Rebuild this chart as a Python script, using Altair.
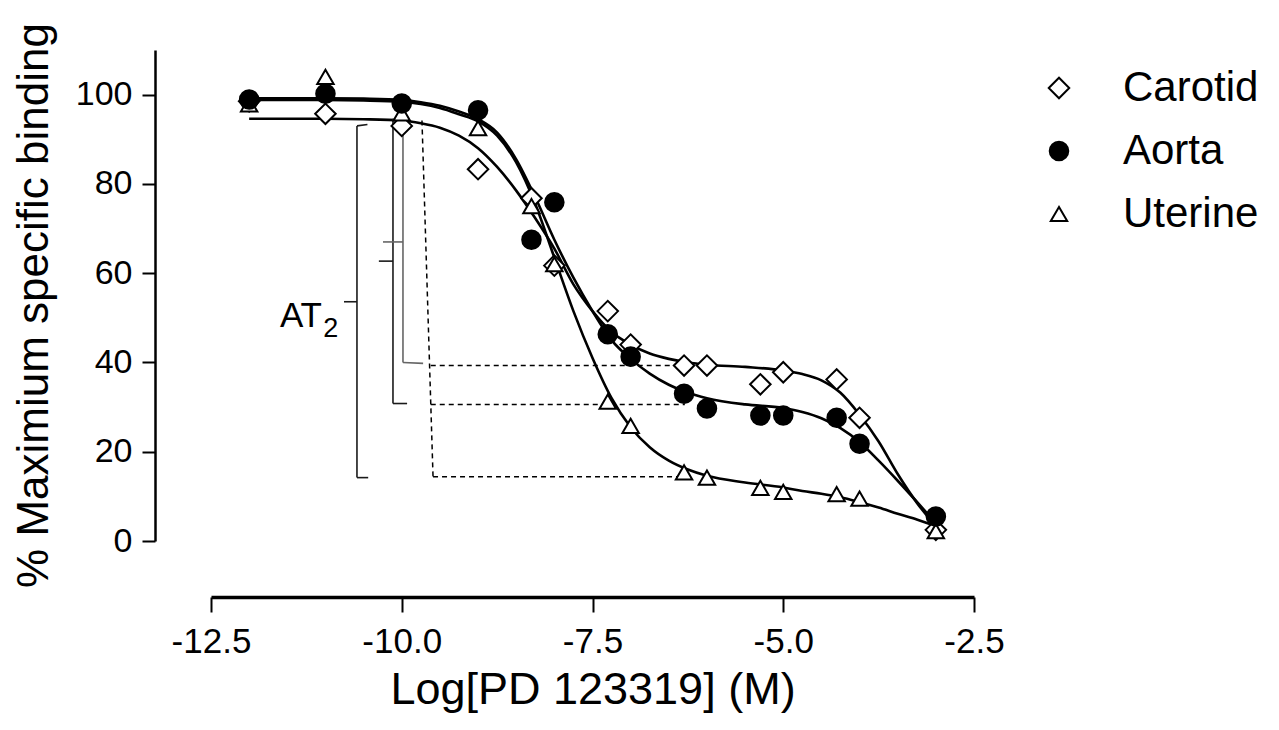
import altair as alt
import pandas as pd

# ---------------- data ----------------
series_names = ["Carotid", "Aorta", "Uterine"]

x_conc = [-12, -11, -10, -9, -8.3, -8, -7.3, -7, -6.3, -6, -5.3, -5, -4.3, -4, -3]
carotid_pts = [98.5, 95.7, 93.0, 83.3, 76.8, 61.7, 51.5, 44.0, 39.3, 39.3, 35.1, 37.8, 36.2, 27.6, 2.5]
aorta_pts = [98.9, 100.2, 98.0, 96.5, 67.5, 75.9, 46.3, 41.3, 33.0, 29.7, 28.1, 28.1, 27.6, 21.8, 5.5]
uterine_pts = [97.8, 104.0, 95.8, 92.5, 75.0, 62.0, 31.2, 25.8, 15.4, 14.2, 11.9, 11.0, 10.5, 9.5, 2.2]

# fitted curves
curve_x = [-12, -11, -10.5, -10, -9.75, -9.5, -9.25, -9, -8.75, -8.5, -8.25, -8,
           -7.75, -7.5, -7.25, -7, -6.75, -6.5, -6.25, -6, -5.5, -5, -4.75, -4.5,
           -4.25, -4, -3.75, -3.5, -3.25, -3]
carotid_fit = [94.6, 94.6, 94.5, 94.2, 93.6, 92.6, 90.8, 88.0, 83.8, 78.5, 72.3, 65.5,
               57.5, 51.5, 46.8, 44.0, 42.0, 40.8, 40.0, 39.5, 39.0, 38.2, 37.4, 36.0,
               33.2, 28.3, 22.3, 15.0, 8.6, 3.3]
aorta_fit = [99.2, 99.2, 99.1, 98.8, 98.3, 97.5, 96.2, 94.5, 91.5, 85.5, 77.0, 67.5,
             59.0, 51.5, 45.0, 40.8, 37.5, 35.0, 33.2, 32.0, 30.6, 29.8, 28.9, 27.5,
             25.3, 22.2, 18.0, 13.5, 8.8, 4.0]
uterine_fit = [98.8, 98.8, 98.7, 98.4, 97.9, 97.0, 95.6, 94.0, 90.8, 84.8, 75.5, 63.5,
               51.5, 41.0, 32.0, 25.5, 21.0, 18.0, 16.0, 14.6, 13.1, 12.0, 11.2, 10.6,
               9.8, 8.7, 7.5, 6.1, 4.8, 3.3]

# annotation: brackets (solid) and guide lines (dashed), in data units
bracket_x1 = [-10.587, -10.587, -10.587, -10.587,
              -10.115, -10.115, -10.115,
              -9.984, -9.984, -9.984]
bracket_x2 = [-10.587, -10.45, -10.44, -10.757,
              -10.115, -9.93, -10.30,
              -9.984, -9.72, -10.246]
bracket_y1 = [93.0, 93.0, 14.2, 53.6,
              94.6, 30.8, 62.7,
              94.2, 40.0, 67.0]
bracket_y2 = [14.2, 93.3, 14.2, 53.6,
              30.8, 30.8, 62.7,
              40.0, 39.8, 67.0]
bracket_col = ["#1a1a1a"] * 7 + ["#666666"] * 3

dash_x1 = [-9.735, -9.62, -9.62, -9.59]
dash_x2 = [-9.59, -6.29, -6.29, -6.29]
dash_y1 = [94.2, 39.3, 30.6, 14.4]
dash_y2 = [14.4, 39.3, 30.6, 14.4]

x_ticks = [-12.5, -10.0, -7.5, -5.0, -2.5]
y_ticks = [0, 20, 40, 60, 80, 100]

FONT = "Liberation Sans, Arial, Helvetica, sans-serif"

# ---------------- tables ----------------
pts = []
for name, vals in [("Carotid", carotid_pts), ("Uterine", uterine_pts), ("Aorta", aorta_pts)]:
    for xv, yv in zip(x_conc, vals):
        pts.append({"x": xv, "y": yv, "series": name})
pts_df = pd.DataFrame(pts)

fit = []
for name, vals in [("Carotid", carotid_fit), ("Aorta", aorta_fit), ("Uterine", uterine_fit)]:
    for xv, yv in zip(curve_x, vals):
        fit.append({"x": xv, "y": yv, "series": name})
fit_df = pd.DataFrame(fit)

br_df = pd.DataFrame({"x": bracket_x1, "x2": bracket_x2, "y": bracket_y1,
                      "y2": bracket_y2, "col": bracket_col})
dash_df = pd.DataFrame({"x": dash_x1, "x2": dash_x2, "y": dash_y1, "y2": dash_y2})

xscale = alt.Scale(domain=[-12.5, -2.5], nice=False, zero=False)
yscale = alt.Scale(domain=[0, 110], nice=False, zero=False)

xaxis = alt.Axis(
    values=x_ticks,
    labelExpr="replace(format(datum.value, '.1f'), '\u2212', '-')",
    offset=56, grid=False, labelFlush=False,
    domainColor="black", domainWidth=3.5,
    tickColor="black", tickWidth=2, tickSize=15,
    labelFont=FONT, labelFontSize=35, labelColor="black",
    labelPadding=40, labelBaseline="alphabetic",
    title="Log[PD 123319] (M)", titleFont=FONT, titleFontSize=45,
    titleFontWeight="normal", titleColor="black",
    titleBaseline="alphabetic", titleY=106,
)
yaxis = alt.Axis(
    values=y_ticks, format="d",
    offset=56, grid=False, labelFlush=False,
    domainColor="black", domainWidth=2.5,
    tickColor="black", tickWidth=2, tickSize=13,
    labelFont=FONT, labelFontSize=34, labelColor="black", labelPadding=10,
    title="% Maximium specific binding", titleFont=FONT, titleFontSize=44,
    titleFontWeight="normal", titleColor="black",
    titleBaseline="alphabetic", titleX=-108, titleY=255, titleAngle=270,
)

X = alt.X("x:Q", scale=xscale, axis=xaxis)
Y = alt.Y("y:Q", scale=yscale, axis=yaxis)

curves = alt.Chart(fit_df).mark_line(
    interpolate="monotone", color="black", strokeWidth=2.6
).encode(x=X, y=Y, detail="series:N")

brackets = alt.Chart(br_df).mark_rule(strokeWidth=1.6).encode(
    x=X, x2="x2:Q", y=Y, y2="y2:Q", stroke=alt.Stroke("col:N", scale=None)
)

dashes = alt.Chart(dash_df).mark_rule(
    strokeWidth=1.5, color="black", strokeDash=[5, 4]
).encode(x=X, x2="x2:Q", y=Y, y2="y2:Q")

leg = alt.Legend(
    title=None, orient="none", legendX=827, legendY=17, padding=0,
    labelFont=FONT, labelFontSize=42, labelColor="black", labelOffset=43,
    rowPadding=21, symbolStrokeColor="black", symbolStrokeWidth=2,
)

points = alt.Chart(pts_df).mark_point(
    filled=True, strokeWidth=2, opacity=1
).encode(
    x=X, y=Y,
    shape=alt.Shape("series:N", scale=alt.Scale(domain=series_names,
                    range=["diamond", "circle", "triangle-up"]), legend=leg),
    fill=alt.Fill("series:N", scale=alt.Scale(domain=series_names,
                  range=["white", "black", "white"]), legend=leg),
    stroke=alt.Stroke("series:N", scale=alt.Scale(domain=series_names,
                      range=["black", "black", "black"]), legend=leg),
    size=alt.Size("series:N", scale=alt.Scale(domain=series_names,
                  range=[420, 270, 480]), legend=leg),
)

at_df = pd.DataFrame({"x": [-11.045], "y": [47.9], "t": ["AT"]})
sub_df = pd.DataFrame({"x": [-11.03], "y": [45.6], "t": ["2"]})
at_text = alt.Chart(at_df).mark_text(
    align="right", baseline="alphabetic", font=FONT, fontSize=35, color="black"
).encode(x=X, y=Y, text="t:N")
sub_text = alt.Chart(sub_df).mark_text(
    align="left", baseline="alphabetic", font=FONT, fontSize=27, color="black"
).encode(x=X, y=Y, text="t:N")

chart = alt.layer(curves, dashes, brackets, at_text, sub_text, points).properties(
    width=763, height=491,
    background="white",
    padding={"left": 203, "top": 42, "right": 290, "bottom": 180},
    autosize=alt.AutoSizeParams(type="none"),
).configure_view(stroke=None)

chart.save("out.html", embed_options={"renderer": "svg", "actions": False})
